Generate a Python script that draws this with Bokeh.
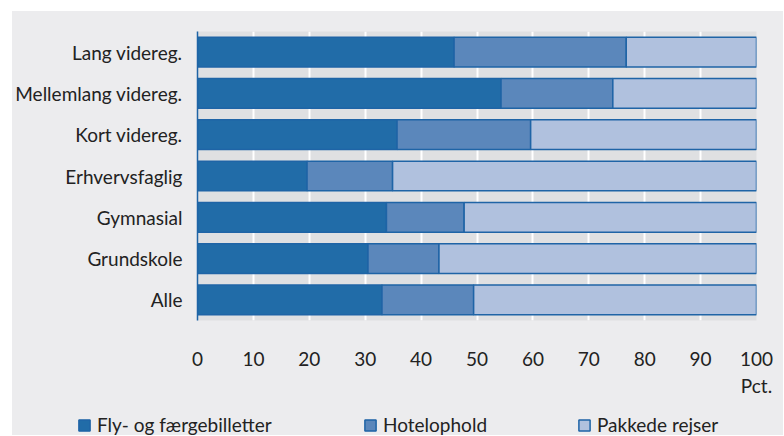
from bokeh.plotting import figure
from bokeh.layouts import column, row
from bokeh.models import (FactorRange, Range1d, FixedTicker, Legend, LegendItem,
                          CustomJSTickFormatter, ColumnDataSource)
from bokeh.embed import file_html
from bokeh.resources import INLINE

categories = ["Lang videreg.", "Mellemlang videreg.", "Kort videreg.", "Erhvervsfaglig",
              "Gymnasial", "Grundskole", "Alle"]
series = ["Fly- og færgebilletter", "Hotelophold", "Pakkede rejser"]
fly = [45.9, 54.3, 35.7, 19.6, 33.8, 30.5, 33.0]
hotel = [30.8, 20.0, 23.9, 15.3, 13.9, 12.7, 16.4]
pakke = [23.3, 25.7, 40.4, 65.1, 52.3, 56.8, 50.6]
x_ticks = [0, 10, 20, 30, 40, 50, 60, 70, 80, 90, 100]
unit_label = "Pct."

colors = ["#216ca8", "#5b87bb", "#b0c1de"]
edge = "#1f64a6"
BG = "#ececee"
FONT = "Lato"
FS = "19px"
TXT = "#222222"

source = ColumnDataSource({"cat": categories, "fly": fly, "hotel": hotel, "pakke": pakke})
stack_cols = ["fly", "hotel", "pakke"]

p = figure(width=771, height=389, output_backend="svg", toolbar_location=None,
           y_range=FactorRange(factors=categories[::-1]), x_range=Range1d(0, 100),
           min_border_left=184, min_border_right=27, min_border_top=20, min_border_bottom=70)
p.border_fill_color = BG
p.background_fill_color = "#dfe0e2"
p.outline_line_color = None

rs = p.hbar_stack(stack_cols, y="cat", height=0.72, source=source,
                  color=colors, line_color=edge, line_width=1.5)

p.ygrid.grid_line_color = None
p.xgrid.grid_line_color = "white"
p.xgrid.grid_line_width = 2
p.xaxis.ticker = FixedTicker(ticks=x_ticks)
p.xgrid.ticker = FixedTicker(ticks=x_ticks)
p.xaxis.formatter = CustomJSTickFormatter(
    args=dict(unit=unit_label, last=x_ticks[-1]),
    code="return tick == last ? tick.toString() + '\\n' + unit : tick.toString();")

for ax in (p.xaxis, p.yaxis):
    ax.major_tick_line_color = None
    ax.minor_tick_line_color = None
    ax.major_label_text_font = FONT
    ax.major_label_text_font_size = FS
    ax.major_label_text_color = TXT
p.xaxis.axis_line_color = None
p.xaxis.major_label_standoff = 20
p.yaxis.axis_line_color = edge
p.yaxis.axis_line_width = 1.5
p.yaxis.major_label_standoff = 9

# legend strip: hidden copies of the stacked bars supply the legend swatches
lf = figure(width=771, height=35, output_backend="svg", toolbar_location=None,
            x_range=Range1d(0, 100), y_range=FactorRange(factors=categories[::-1]),
            x_axis_location=None, y_axis_location=None,
            min_border=0, min_border_left=0, min_border_right=0,
            min_border_top=0, min_border_bottom=0)
lf.grid.visible = False
lf.outline_line_color = None
lf.background_fill_color = BG
lf.border_fill_color = BG
lrs = lf.hbar_stack(stack_cols, y="cat", height=0.72, source=source,
                    color=colors, line_color=edge, line_width=1.5)
legend_x = [65, 351, 565]
for s, r, lx in zip(series, lrs, legend_x):
    r.visible = False
    lg = Legend(items=[LegendItem(label=s, renderers=[r])], location=(lx, -1),
                background_fill_alpha=0, border_line_color=None,
                label_text_font=FONT, label_text_font_size=FS, label_text_color=TXT,
                glyph_width=14, glyph_height=14, label_standoff=6, padding=0, margin=0,
                inactive_fill_alpha=0)
    lf.add_layout(lg, "center")

layout = column(p, row(lf, spacing=0, styles={"background-color": BG}), spacing=0,
                margin=(11, 0, 0, 12), styles={"background-color": BG})
open("out.html", "w").write(file_html(layout, INLINE))
